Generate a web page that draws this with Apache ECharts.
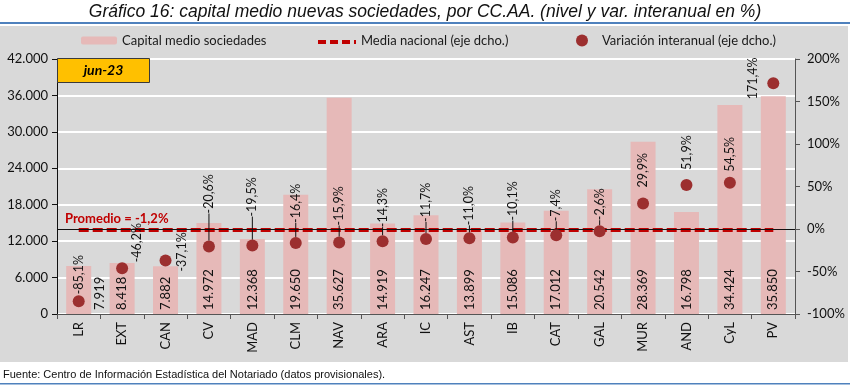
<!DOCTYPE html>
<html>
<head>
<meta charset="utf-8">
<style>
html,body{margin:0;padding:0;background:#fff;}
#c{width:850px;height:386px;}
</style>
<script src="https://cdn.jsdelivr.net/npm/echarts@6/dist/echarts.min.js"></script>
</head>
<body>
<div id="c"></div>
<script>
const categories = ['LR','EXT','CAN','CV','MAD','CLM','NAV','ARA','IC','AST','IB','CAT','GAL','MUR','AND','CyL','PV'];
const capitalMedio = [7919, 8418, 7882, 14972, 12368, 19650, 35627, 14919, 16247, 13899, 15086, 17012, 20542, 28369, 16798, 34424, 35850];
const variacion = [-85.1, -46.2, -37.1, -20.6, -19.5, -16.4, -15.9, -14.3, -11.7, -11.0, -10.1, -7.4, -2.6, 29.9, 51.9, 54.5, 171.4];
const mediaNacional = [-1.2, -1.2, -1.2, -1.2, -1.2, -1.2, -1.2, -1.2, -1.2, -1.2, -1.2, -1.2, -1.2, -1.2, -1.2, -1.2, -1.2];
const leftTicks = {min: 0, max: 42000, interval: 6000};
const rightTicks = {min: -100, max: 200, interval: 50};

// label placement style (screen pixel nudges for the % labels, as in the original)
const varLabelShift = [[0,-1],[15,0],[16,17],[0,-27],[0,-23],[0,-14],[0,-11],[0,-8],[0,-11],[0,-7],[0,-11],[0,-8],[0,-5],[0,-10],[0,-9],[0,-5],[-20,22]];
const varLabelLine = [false,false,false,true,true,true,true,true,true,true,true,true,true,false,false,false,false];

const FONT = 'Lato, "Liberation Sans", sans-serif';
const fmtThousands = v => String(v).replace(/\B(?=(\d{3})+(?!\d))/g, '.');
const fmtPct = v => v.toFixed(1).replace('.', ',') + '%';

const chart = echarts.init(document.getElementById('c'), null, {renderer: 'canvas'});

const option = {
  animation: false,
  backgroundColor: '#ffffff',
  textStyle: {fontFamily: FONT},
  graphic: [
    {type: 'rect', z: -10, shape: {x: 0, y: 26, width: 848, height: 336}, style: {fill: '#d9d9d9'}, silent: true},
    {type: 'rect', z: -10, shape: {x: 0, y: 22, width: 850, height: 2}, style: {fill: '#4f81bd'}, silent: true},
    {type: 'rect', z: -10, shape: {x: 0, y: 383, width: 850, height: 1.5}, style: {fill: '#4f81bd'}, silent: true},
    {type: 'text', left: 'center', top: 3, style: {text: 'Gráfico 16: capital medio nuevas sociedades, por CC.AA. (nivel y var. interanual en %)', font: 'italic 17.5px "Liberation Sans Narrow", "Liberation Sans", sans-serif', fill: '#111'}},
    {type: 'text', left: 3, top: 369, style: {text: 'Fuente: Centro de Información Estadística del Notariado (datos provisionales).', font: '11px "Liberation Sans Narrow", "Liberation Sans", sans-serif', fill: '#111'}},
    {type: 'line', z: 50, shape: {x1: 318, y1: 42, x2: 356, y2: 42}, style: {stroke: '#c00000', lineWidth: 4, lineDash: [8, 4]}},
    {type: 'rect', z: 50, shape: {x: 57.5, y: 58.5, width: 92, height: 24}, style: {fill: '#ffc000', stroke: '#3a3a3a', lineWidth: 1}},
    {type: 'text', z: 51, x: 103.5, y: 70.5, style: {text: 'jun-23', font: 'italic bold 14px ' + FONT, fill: '#000', align: 'center', verticalAlign: 'middle'}},
    {type: 'text', z: 51, x: 65, y: 219, style: {text: 'Promedio = -1,2%', font: 'bold 13px ' + FONT, fill: '#c00000', verticalAlign: 'middle'}}
  ],
  legend: [
    {data: ['Capital medio sociedades'], left: 81, top: 34, padding: 0, itemWidth: 36, itemHeight: 8, itemGap: 0,
     textStyle: {fontSize: 13, color: '#1a1a1a', fontFamily: FONT}},
    {data: ['Media nacional (eje dcho.)'], left: 318, top: 34, padding: 0, itemWidth: 38, itemHeight: 8, itemGap: 0,
     icon: 'rect', itemStyle: {opacity: 0}, lineStyle: {opacity: 0},
     textStyle: {fontSize: 13, color: '#1a1a1a', fontFamily: FONT}},
    {data: ['Variación interanual (eje dcho.)'], left: 576, top: 34, padding: 0, itemWidth: 12, itemHeight: 12, itemGap: 0,
     textStyle: {fontSize: 13, color: '#1a1a1a', fontFamily: FONT, padding: [0, 0, 0, 9]}}
  ],
  grid: {left: 57, right: 55, top: 59, bottom: 72},
  xAxis: {
    type: 'category',
    data: categories,
    boundaryGap: true,
    axisLine: {lineStyle: {color: '#555', width: 1}},
    axisTick: {show: true, length: 5, interval: 0, lineStyle: {color: '#555'}},
    axisLabel: {rotate: 90, interval: 0, margin: 8, fontSize: 13, color: '#111', fontFamily: FONT},
    splitLine: {show: false}
  },
  yAxis: [
    {
      type: 'value', min: leftTicks.min, max: leftTicks.max, interval: leftTicks.interval,
      axisLine: {show: true, lineStyle: {color: '#111', width: 1}},
      axisTick: {show: true, length: 5, lineStyle: {color: '#111'}},
      axisLabel: {formatter: v => fmtThousands(v), fontSize: 13, color: '#111', margin: 9, fontFamily: FONT},
      splitLine: {show: true, lineStyle: {color: '#ffffff', width: 2}}
    },
    {
      type: 'value', min: rightTicks.min, max: rightTicks.max, interval: rightTicks.interval,
      position: 'right',
      axisLine: {show: true, lineStyle: {color: '#555', width: 1}},
      axisTick: {show: true, length: 5, lineStyle: {color: '#555'}},
      axisLabel: {formatter: v => v + '%', fontSize: 13, color: '#111', margin: 12, fontFamily: FONT},
      splitLine: {show: false}
    }
  ],
  series: [
    {
      name: 'Capital medio sociedades',
      type: 'bar',
      yAxisIndex: 0,
      barWidth: 25,
      itemStyle: {color: '#e6b9b8'},
      data: capitalMedio.map((v, i) => i === 0 ? {value: v, label: {offset: [0, 21]}} : {value: v}),
      label: {
        show: true, position: 'insideBottom', distance: 4, rotate: 90,
        align: 'left', verticalAlign: 'middle',
        formatter: p => fmtThousands(p.value), fontSize: 13, color: '#111', fontFamily: FONT
      },
      z: 2
    },
    {
      name: 'Media nacional (eje dcho.)',
      type: 'line',
      yAxisIndex: 1,
      data: mediaNacional,
      symbol: 'none',
      lineStyle: {color: '#c00000', width: 4, type: [10, 4]},
      itemStyle: {color: '#c00000'},
      z: 4
    },
    {
      name: 'Variación interanual (eje dcho.)',
      type: 'scatter',
      yAxisIndex: 1,
      symbolSize: 12,
      itemStyle: {color: '#9c2f2f', opacity: 1},
      data: variacion,
      label: {show: false},
      markLine: {
        silent: true, symbol: 'none', label: {show: false},
        lineStyle: {color: '#111', width: 1, type: 'solid'},
        data: [{yAxis: 0}]
      },
      z: 5
    },
    {
      type: 'custom',
      yAxisIndex: 1,
      silent: true,
      z: 6,
      data: variacion.map((v, i) => [i, v]),
      encode: {x: 0, y: 1},
      renderItem: (params, api) => {
        const i = params.dataIndex;
        const v = api.value(1);
        const p = api.coord([api.value(0), v]);
        const sh = varLabelShift[i];
        const ax = p[0] + sh[0];
        const ay = p[1] - 6 + sh[1];
        const children = [{
          type: 'text', x: ax, y: ay, rotation: Math.PI / 2,
          style: {text: fmtPct(v), font: '12.5px ' + FONT, fill: '#111', align: 'left', verticalAlign: 'middle'}
        }];
        if (varLabelLine[i]) {
          children.push({type: 'line', shape: {x1: p[0], y1: p[1] - 6, x2: ax, y2: ay}, style: {stroke: '#111', lineWidth: 1}});
        }
        return {type: 'group', children: children};
      }
    }
  ]
};
chart.setOption(option);
</script>
</body>
</html>
